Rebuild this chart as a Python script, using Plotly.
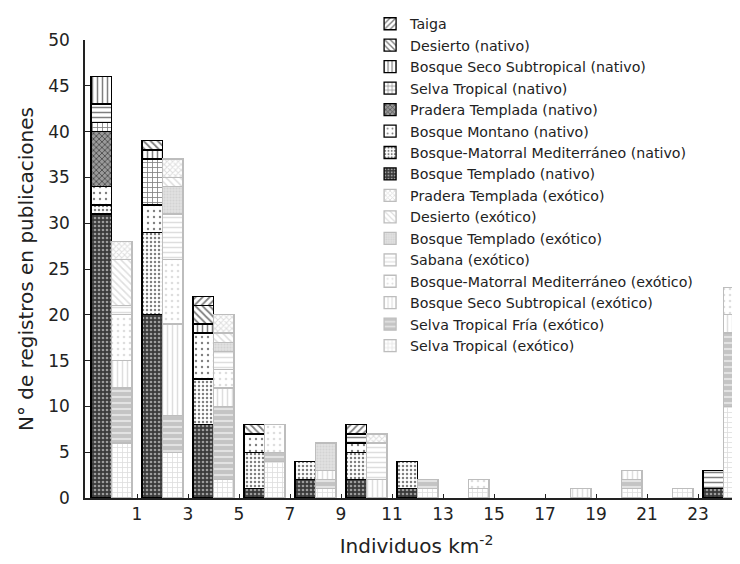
import plotly.graph_objects as go

groups = [0, 2, 4, 6, 8, 10, 12, 14, 16, 18, 20, 22, 24]
tick_vals = [1, 3, 5, 7, 9, 11, 13, 15, 17, 19, 21, 23]

# native series (bottom -> top)
bosque_templado_nat = [31, 20, 8, 1, 2, 2, 1, 0, 0, 0, 0, 0, 1]
mediterraneo_nat    = [1, 9, 5, 4, 2, 3, 3, 0, 0, 0, 0, 0, 0]
montano_nat         = [2, 3, 5, 2, 0, 1, 0, 0, 0, 0, 0, 0, 0]
pradera_nat         = [6, 0, 0, 0, 0, 0, 0, 0, 0, 0, 0, 0, 0]
selva_trop_nat      = [1, 5, 0, 0, 0, 0, 0, 0, 0, 0, 0, 0, 0]
sabana_nat          = [2, 0, 0, 0, 0, 1, 0, 0, 0, 0, 0, 0, 2]
seco_nat            = [3, 1, 1, 0, 0, 0, 0, 0, 0, 0, 0, 0, 0]
desierto_nat        = [0, 1, 2, 1, 0, 0, 0, 0, 0, 0, 0, 0, 0]
taiga               = [0, 0, 1, 0, 0, 1, 0, 0, 0, 0, 0, 0, 0]

# exotic series (bottom -> top)
selva_trop_ex       = [6, 5, 2, 4, 1, 0, 1, 1, 0, 0, 1, 1, 10]
selva_fria_ex       = [6, 4, 8, 1, 1, 0, 1, 0, 0, 0, 1, 0, 8]
seco_ex             = [3, 10, 2, 0, 1, 2, 0, 0, 0, 1, 1, 0, 2]
mediterraneo_ex     = [5, 7, 2, 3, 0, 0, 0, 1, 0, 0, 0, 0, 3]
sabana_ex           = [1, 5, 2, 0, 0, 4, 0, 0, 0, 0, 0, 0, 0]
templado_ex         = [0, 3, 1, 0, 3, 0, 0, 0, 0, 0, 0, 0, 0]
desierto_ex         = [5, 1, 1, 0, 0, 0, 0, 0, 0, 0, 0, 0, 0]
pradera_ex          = [2, 2, 2, 0, 0, 1, 0, 0, 0, 0, 0, 0, 0]

BLK = "#000000"
GRY = "#bdbdbd"
FONT = "DejaVu Sans, Arial, sans-serif"

native = [
    ("Bosque Templado (nativo)", bosque_templado_nat, dict(shape=".", fgcolor="white", bgcolor="#3a3a3a", size=4, solidity=0.35), 8, True),
    ("Bosque-Matorral Mediterráneo (nativo)", mediterraneo_nat, dict(shape=".", fgcolor=BLK, bgcolor="white", size=4, solidity=0.3), 7, True),
    ("Bosque Montano (nativo)", montano_nat, dict(shape=".", fgcolor=BLK, bgcolor="white", size=6, solidity=0.12), 6, True),
    ("Pradera Templada (nativo)", pradera_nat, dict(shape="x", fgcolor=BLK, bgcolor="#9a9a9a", size=4, solidity=0.4), 5, True),
    ("Selva Tropical (nativo)", selva_trop_nat, dict(shape="+", fgcolor=BLK, bgcolor="white", size=5, solidity=0.3), 4, True),
    ("Sabana (nativo)", sabana_nat, dict(shape="-", fgcolor=BLK, bgcolor="white", size=5, solidity=0.3), 17, False),
    ("Bosque Seco Subtropical (nativo)", seco_nat, dict(shape="|", fgcolor=BLK, bgcolor="white", size=5, solidity=0.3), 3, True),
    ("Desierto (nativo)", desierto_nat, dict(shape="\\", fgcolor=BLK, bgcolor="white", size=5, solidity=0.35), 2, True),
    ("Taiga", taiga, dict(shape="/", fgcolor=BLK, bgcolor="white", size=5, solidity=0.35), 1, True),
]

exotic = [
    ("Selva Tropical (exótico)", selva_trop_ex, dict(shape="+", fgcolor=GRY, bgcolor="white", size=5, solidity=0.3), 16),
    ("Selva Tropical Fría (exótico)", selva_fria_ex, dict(shape="-", fgcolor="white", bgcolor="#c4c4c4", size=6, solidity=0.35), 15),
    ("Bosque Seco Subtropical (exótico)", seco_ex, dict(shape="|", fgcolor=GRY, bgcolor="white", size=5, solidity=0.3), 14),
    ("Bosque-Matorral Mediterráneo (exótico)", mediterraneo_ex, dict(shape=".", fgcolor=GRY, bgcolor="white", size=6, solidity=0.15), 13),
    ("Sabana (exótico)", sabana_ex, dict(shape="-", fgcolor=GRY, bgcolor="white", size=5, solidity=0.3), 12),
    ("Bosque Templado (exótico)", templado_ex, dict(shape=".", fgcolor="#c4c4c4", bgcolor="#e2e2e2", size=3, solidity=0.4), 11),
    ("Desierto (exótico)", desierto_ex, dict(shape="\\", fgcolor=GRY, bgcolor="white", size=5, solidity=0.3), 10),
    ("Pradera Templada (exótico)", pradera_ex, dict(shape="x", fgcolor=GRY, bgcolor="white", size=4, solidity=0.45), 9),
]


def nz(vals):
    return [v if v else None for v in vals]


fig = go.Figure()
for name, vals, pat, rank, show in native:
    fig.add_trace(go.Bar(
        x=[g - 0.4 for g in groups], y=nz(vals), width=0.8, name=name,
        marker=dict(color="white", pattern=pat, line=dict(color=BLK, width=1.3)),
        legendrank=rank, showlegend=show,
    ))
for name, vals, pat, rank in exotic:
    fig.add_trace(go.Bar(
        x=[g + 0.4 for g in groups], y=nz(vals), width=0.8, name=name,
        marker=dict(color="white", pattern=pat, line=dict(color=GRY, width=1.3)),
        legendrank=rank,
    ))

fig.update_layout(
    width=740, height=564,
    barmode="stack",
    paper_bgcolor="white", plot_bgcolor="white",
    margin=dict(l=77, r=0, t=32, b=74),
    font=dict(family=FONT, color="#222"),
    legend=dict(
        x=0.43, y=1.07, xanchor="left", yanchor="top",
        traceorder="normal", maxheight=600,
        font=dict(size=14.2, color="#222", family=FONT),
        bgcolor="rgba(0,0,0,0)", itemwidth=30,
    ),
    xaxis=dict(
        range=[-1.04, 24.96], tickvals=tick_vals, ticktext=[str(t) for t in tick_vals],
        ticks="inside", ticklen=4, tickcolor="#222",
        showline=True, linecolor="#222", linewidth=1.5, showgrid=False, zeroline=False,
        tickfont=dict(size=17), ticklabelstandoff=0,
        title=dict(text="Individuos km<sup>-2</sup>", font=dict(size=20), standoff=16),
    ),
    yaxis=dict(
        range=[0, 50], dtick=5, ticks="inside", ticklen=5, tickcolor="#222",
        showline=True, linecolor="#222", linewidth=1.5, showgrid=False, zeroline=False,
        tickfont=dict(size=17), ticklabelstandoff=10,
        title=dict(text="N° de registros en publicaciones", font=dict(size=20), standoff=9),
    ),
)

fig.write_html("out.html")
